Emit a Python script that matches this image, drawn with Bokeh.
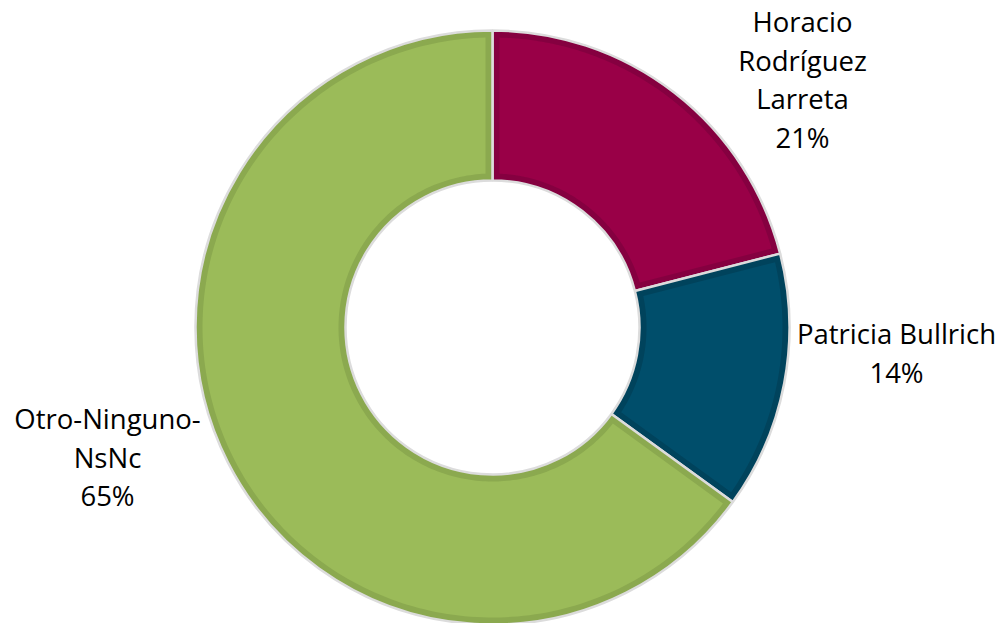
import numpy as np
from bokeh.plotting import figure
from bokeh.models import Range1d, ColumnDataSource
from bokeh.core.properties import value
from bokeh.embed import file_html
from bokeh.resources import INLINE

# ---- data ----
names = ["Horacio\nRodríguez\nLarreta", "Patricia Bullrich", "Otro-Ninguno-\nNsNc"]
shares = [21, 14, 65]
colors = ["#990047", "#004E6B", "#9BBB59"]
band_colors = ["#850040", "#00435C", "#8BA94F"]

# ---- layout / style ----
W, H = 1002, 623
cx, cy = 492, 296
r_in, r_out = 147, 297
band = 7
label_anchor = [(802, 602), (896, 290), (107, 205)]   # first-line baseline positions
line_step = 38.7
font = "Open Sans"
font_size = "27.5px"

p = figure(width=W, height=H, output_backend="svg", toolbar_location=None,
           x_range=Range1d(0, W), y_range=Range1d(0, H),
           min_border=0, outline_line_color=None, background_fill_color="white")
p.axis.visible = False
p.grid.visible = False

vals = np.array(shares, dtype=float)
frac = vals / vals.sum()
cum = np.concatenate([[0], np.cumsum(frac)])
start = np.pi / 2 - 2 * np.pi * cum[1:]
end = np.pi / 2 - 2 * np.pi * cum[:-1]

src = ColumnDataSource(dict(start=start, end=end, dark=band_colors))
p.annular_wedge(x=cx, y=cy, inner_radius=r_in, outer_radius=r_out,
                start_angle="start", end_angle="end", direction="anticlock",
                fill_color="dark", line_color="#dcdcdc", line_width=2.5, source=src)

# inner lighter area of each slice (inset by band px)
xs, ys = [], []
for s, e in zip(start, end):
    ro, ri = r_out - band, r_in + band
    ao0, ao1 = s + np.arcsin(band / ro), e - np.arcsin(band / ro)
    ai0, ai1 = s + np.arcsin(band / ri), e - np.arcsin(band / ri)
    t_out = np.linspace(ao0, ao1, 200)
    t_in = np.linspace(ai1, ai0, 200)
    px = np.concatenate([cx + ro * np.cos(t_out), cx + ri * np.cos(t_in)])
    py = np.concatenate([cy + ro * np.sin(t_out), cy + ri * np.sin(t_in)])
    xs.append(px.tolist()); ys.append(py.tolist())
p.patches(xs=xs, ys=ys, fill_color=colors, line_color=None)

# labels
tx, ty, tt = [], [], []
for name, v, (ax, ay) in zip(names, shares, label_anchor):
    lines = name.split("\n") + [f"{v}%"]
    for i, ln in enumerate(lines):
        tx.append(ax); ty.append(ay - i * line_step); tt.append(ln)
p.text(x=tx, y=ty, text=tt, text_align="center", text_baseline="alphabetic",
       text_font=value(font), text_font_size=font_size, text_color="#000000")

open("out.html", "w").write(file_html(p, INLINE))
